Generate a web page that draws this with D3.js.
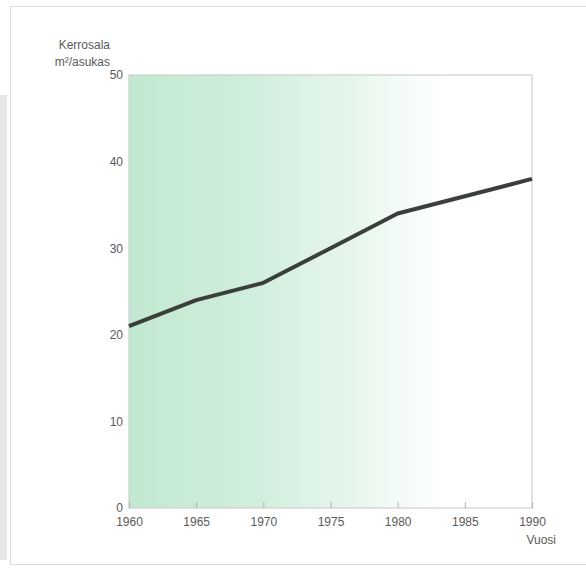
<!DOCTYPE html>
<html><head><meta charset="utf-8">
<script src="https://cdn.jsdelivr.net/npm/d3@7/dist/d3.min.js"></script>
<style>body{margin:0;background:#fff}svg{display:block}text{font-family:"Liberation Sans",Arial,sans-serif;fill:#5a5a5a}</style>
</head><body>
<script>
const years = [1960, 1965, 1970, 1975, 1980, 1985, 1990];
const values = [21, 24, 26, 30, 34, 36, 38];
const yTicks = [0, 10, 20, 30, 40, 50];
const xTicks = [1960, 1965, 1970, 1975, 1980, 1985, 1990];
const yTitle = ["Kerrosala", "m²/asukas"];
const xTitle = "Vuosi";

const W = 586, H = 573;
const svg = d3.select("body").append("svg").attr("width", W).attr("height", H);
const m = {l: 129, r: 532, t: 75, b: 508};
const x = d3.scaleLinear().domain([1960, 1990]).range([m.l, m.r]);
const y = d3.scaleLinear().domain([0, 50]).range([m.b, m.t]);

// frame
svg.append("rect").attr("x", 0).attr("y", 95).attr("width", 7).attr("height", 465).attr("fill", "#e6e6e6");
svg.append("rect").attr("x", 10.5).attr("y", 6.5).attr("width", 580).attr("height", 558)
  .attr("fill", "none").attr("stroke", "#dcdcdc");

const defs = svg.append("defs");
const g = defs.append("linearGradient").attr("id", "bg").attr("x1", "0").attr("x2", "1").attr("y1", "0").attr("y2", "0");
g.append("stop").attr("offset", "0").attr("stop-color", "#c2e8d1");
g.append("stop").attr("offset", "0.3").attr("stop-color", "#d0eedc");
g.append("stop").attr("offset", "0.55").attr("stop-color", "#e6f6ec");
g.append("stop").attr("offset", "0.78").attr("stop-color", "#ffffff");
g.append("stop").attr("offset", "1").attr("stop-color", "#ffffff");

svg.append("rect").attr("x", x(1960)).attr("y", y(50)).attr("width", x(1990) - x(1960)).attr("height", y(0) - y(50))
  .attr("fill", "url(#bg)").attr("stroke", "#cfcfcf").attr("stroke-width", 1.2);

// x ticks inward
svg.append("g").attr("transform", `translate(0,${y(0)})`)
  .call(d3.axisBottom(x).tickValues(xTicks).tickSize(-6).tickFormat(d3.format("d")).tickPadding(9))
  .call(a => { a.select(".domain").remove(); a.selectAll("line").attr("stroke", "#b0b0b0"); a.selectAll("text").attr("font-size", 12).style("fill", "#5a5a5a"); });

// y labels
svg.append("g").attr("transform", `translate(${x(1960)},0)`)
  .call(d3.axisLeft(y).tickValues(yTicks).tickSize(0).tickPadding(6))
  .call(a => { a.select(".domain").remove(); a.selectAll("text").attr("font-size", 12).style("fill", "#5a5a5a"); });

svg.selectAll(".ytitle").data(yTitle).enter().append("text")
  .attr("x", 110).attr("y", (d, i) => 49 + i * 17).attr("text-anchor", "end").attr("font-size", 12).text(d => d);

svg.append("text").attr("x", 556).attr("y", 544).attr("text-anchor", "end").attr("font-size", 12).text(xTitle);

const line = d3.line().x((d, i) => x(years[i])).y(d => y(d));
svg.append("path").datum(values).attr("d", line).attr("fill", "none")
  .attr("stroke", "#3b3f3c").attr("stroke-width", 4).attr("stroke-linejoin", "round");
</script>
</body></html>
